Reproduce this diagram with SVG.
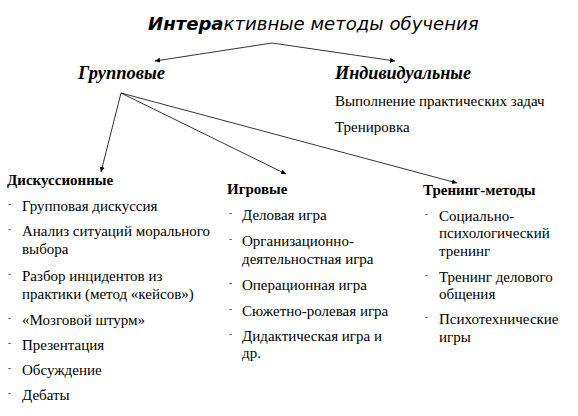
<svg xmlns="http://www.w3.org/2000/svg" width="578" height="416" viewBox="0 0 578 416">
<defs>
<marker id="ah" markerWidth="6" markerHeight="6" refX="5" refY="3" orient="auto" markerUnits="userSpaceOnUse">
<path d="M0,0.5 L5,3 L0,5.5 Z" fill="#000"/>
</marker>
<style>
.t{font-family:"DejaVu Sans",sans-serif;font-style:italic;font-size:18.1px;fill:#000}
.h{font-family:"Liberation Serif",serif;font-style:italic;font-weight:bold;fill:#000}
.s{font-family:"Liberation Serif",serif;font-weight:bold;font-size:15px;fill:#000}
.i{font-family:"Liberation Serif",serif;font-size:15px;fill:#000}
.b{font-family:"Liberation Serif",serif;font-size:9px;fill:#000}
.c{fill:none;stroke:#000;stroke-width:0.8}
</style>
</defs>
<rect width="578" height="416" fill="#fff"/>
<g id="title"><text class="t" x="148" y="30"><tspan font-weight="bold">Интера</tspan>ктивные методы обучения</text></g>
<g id="group"><text class="h" x="78" y="79" font-size="18.5">Групповые</text></g>
<g id="indiv">
<text class="h" x="335" y="79" font-size="18.2">Индивидуальные</text>
<text class="i" x="335" y="106">Выполнение практических задач</text>
<text class="i" x="335" y="132">Тренировка</text>
</g>
<g id="discuss">
<text class="s" x="7" y="185">Дискуссионные</text>
<text class="b" x="8" y="207">-</text><text class="i" x="22" y="211">Групповая дискуссия</text>
<text class="b" x="8" y="232">-</text><text class="i" x="22" y="236">Анализ ситуаций морального</text>
<text class="i" x="22" y="254">выбора</text>
<text class="b" x="8" y="277">-</text><text class="i" x="22" y="281">Разбор инцидентов из</text>
<text class="i" x="22" y="299">практики (метод «кейсов»)</text>
<text class="b" x="8" y="321">-</text><text class="i" x="22" y="325">«Мозговой штурм»</text>
<text class="b" x="8" y="346">-</text><text class="i" x="22" y="350">Презентация</text>
<text class="b" x="8" y="371">-</text><text class="i" x="22" y="375">Обсуждение</text>
<text class="b" x="8" y="396">-</text><text class="i" x="22" y="400">Дебаты</text>
</g>
<g id="games">
<text class="s" x="227" y="194">Игровые</text>
<text class="b" x="229" y="216">-</text><text class="i" x="242" y="220">Деловая игра</text>
<text class="b" x="229" y="242">-</text><text class="i" x="242" y="246">Организационно-</text>
<text class="i" x="242" y="264">деятельностная игра</text>
<text class="b" x="229" y="286">-</text><text class="i" x="242" y="290">Операционная игра</text>
<text class="b" x="229" y="312">-</text><text class="i" x="242" y="316">Сюжетно-ролевая игра</text>
<text class="b" x="229" y="337">-</text><text class="i" x="242" y="341">Дидактическая игра и</text>
<text class="i" x="242" y="358">др.</text>
</g>
<g id="training">
<text class="s" x="423" y="195" font-size="14">Тренинг-методы</text>
<text class="b" x="425" y="217">-</text><text class="i" x="439" y="221">Социально-</text>
<text class="i" x="439" y="238">психологический</text>
<text class="i" x="439" y="256">тренинг</text>
<text class="b" x="425" y="278">-</text><text class="i" x="439" y="282">Тренинг делового</text>
<text class="i" x="439" y="299">общения</text>
<text class="b" x="425" y="320">-</text><text class="i" x="439" y="324">Психотехнические</text>
<text class="i" x="439" y="342">игры</text>
</g>
<g id="connectors">
<path class="c" d="M272,43 L155,61" marker-end="url(#ah)"/>
<path class="c" d="M272,43 L395,61" marker-end="url(#ah)"/>
<path class="c" d="M121,93 L101,172" marker-end="url(#ah)"/>
<path class="c" d="M121,93 L286,174" marker-end="url(#ah)"/>
<path class="c" d="M121,93 L457,183" marker-end="url(#ah)"/>
</g>
</svg>
